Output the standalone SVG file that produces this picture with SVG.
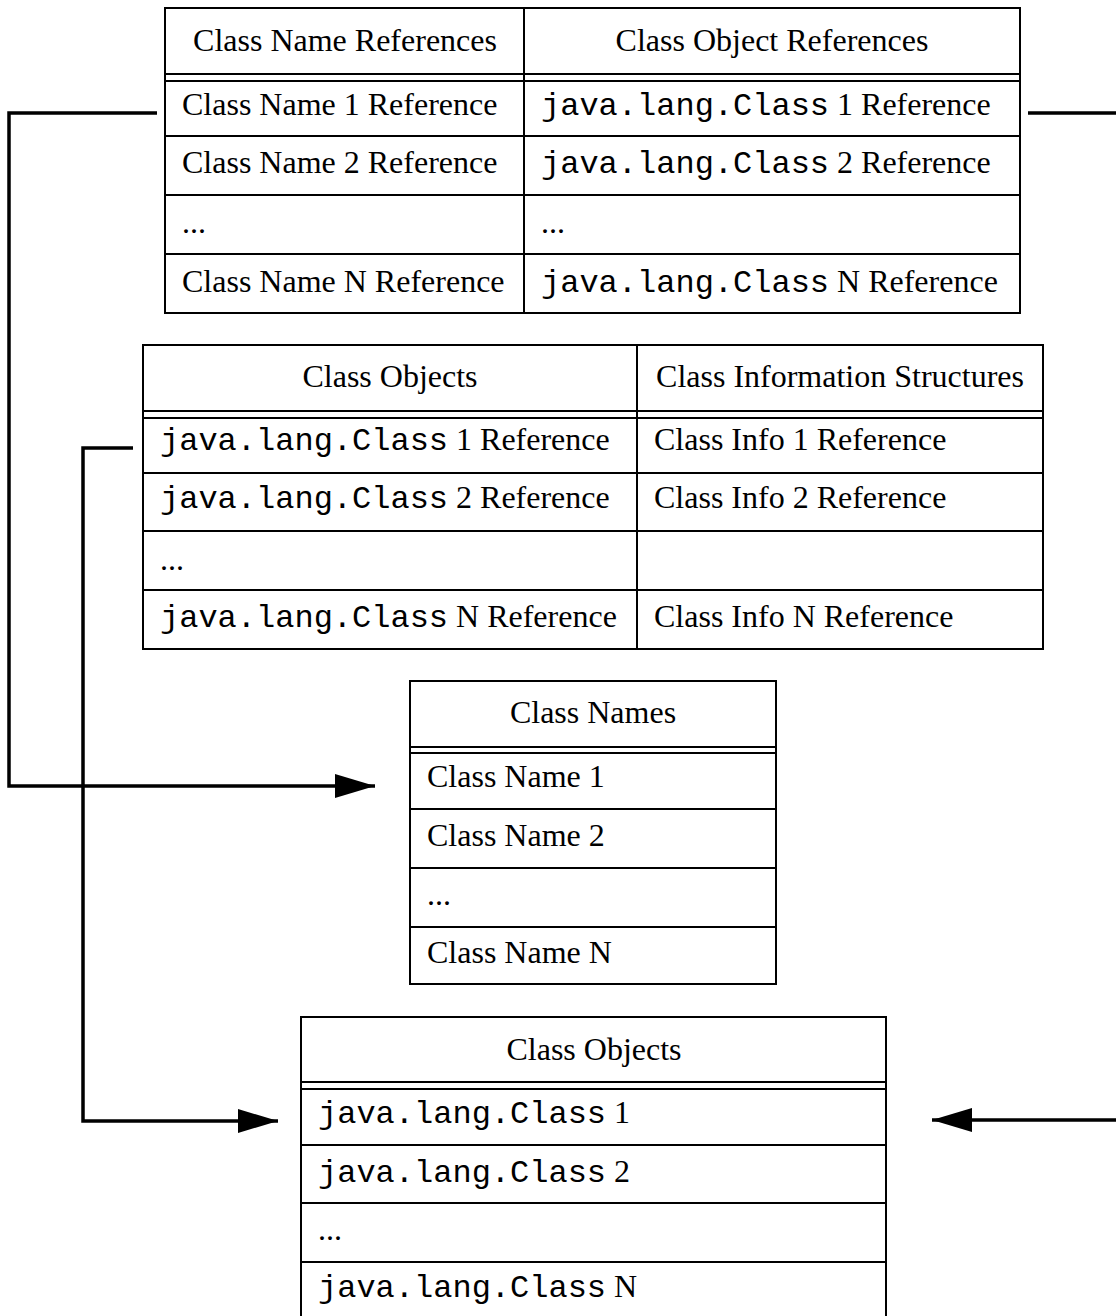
<svg xmlns="http://www.w3.org/2000/svg" width="1116" height="1316" viewBox="0 0 1116 1316">
<style>
.box{fill:#fff;stroke:#000;stroke-width:2}
.ln{stroke:#000;stroke-width:2;fill:none}
.t{font-family:"Liberation Serif","Times New Roman",serif;font-size:32px;fill:#000}
.c{text-anchor:middle}
.m{font-family:"Liberation Mono","Courier New",monospace;font-size:32px}
.conn{stroke:#000;stroke-width:3.5;fill:none}
</style>
<defs>
<marker id="ah" markerUnits="userSpaceOnUse" markerWidth="40" markerHeight="24" viewBox="0 0 40 24" refX="40" refY="12" orient="auto">
<path d="M0,0 L40,12 L0,24 Z" fill="#000"/>
</marker>
</defs>
<rect width="1116" height="1316" fill="#fff"/>

<g id="class-name-refs-table">
<rect class="box" x="165" y="8" width="855" height="305"/>
<line class="ln" x1="165" y1="74" x2="1020" y2="74"/>
<line class="ln" x1="165" y1="81" x2="1020" y2="81"/>
<line class="ln" x1="165" y1="136" x2="1020" y2="136"/>
<line class="ln" x1="165" y1="195" x2="1020" y2="195"/>
<line class="ln" x1="165" y1="254" x2="1020" y2="254"/>
<line class="ln" x1="524" y1="8" x2="524" y2="313"/>
<text class="t c" x="345" y="51">Class Name References</text>
<text class="t c" x="772" y="51">Class Object References</text>
<text class="t" x="182" y="115">Class Name 1 Reference</text>
<text class="t" x="182" y="173">Class Name 2 Reference</text>
<text class="t" x="182" y="233">...</text>
<text class="t" x="182" y="292">Class Name N Reference</text>
<text class="t" x="541" y="115"><tspan class="m">java.lang.Class</tspan> 1 Reference</text>
<text class="t" x="541" y="173"><tspan class="m">java.lang.Class</tspan> 2 Reference</text>
<text class="t" x="541" y="233">...</text>
<text class="t" x="541" y="292"><tspan class="m">java.lang.Class</tspan> N Reference</text>
</g>

<g id="class-objects-info-table">
<rect class="box" x="143" y="345" width="900" height="304"/>
<line class="ln" x1="143" y1="411" x2="1043" y2="411"/>
<line class="ln" x1="143" y1="418" x2="1043" y2="418"/>
<line class="ln" x1="143" y1="473" x2="1043" y2="473"/>
<line class="ln" x1="143" y1="531" x2="1043" y2="531"/>
<line class="ln" x1="143" y1="590" x2="1043" y2="590"/>
<line class="ln" x1="637" y1="345" x2="637" y2="649"/>
<text class="t c" x="390" y="387">Class Objects</text>
<text class="t c" x="840" y="387">Class Information Structures</text>
<text class="t" x="160" y="450"><tspan class="m">java.lang.Class</tspan> 1 Reference</text>
<text class="t" x="160" y="508"><tspan class="m">java.lang.Class</tspan> 2 Reference</text>
<text class="t" x="160" y="570">...</text>
<text class="t" x="160" y="627"><tspan class="m">java.lang.Class</tspan> N Reference</text>
<text class="t" x="654" y="450">Class Info 1 Reference</text>
<text class="t" x="654" y="508">Class Info 2 Reference</text>
<text class="t" x="654" y="627">Class Info N Reference</text>
</g>

<g id="class-names-table">
<rect class="box" x="410" y="681" width="366" height="303"/>
<line class="ln" x1="410" y1="747" x2="776" y2="747"/>
<line class="ln" x1="410" y1="753" x2="776" y2="753"/>
<line class="ln" x1="410" y1="809" x2="776" y2="809"/>
<line class="ln" x1="410" y1="868" x2="776" y2="868"/>
<line class="ln" x1="410" y1="927" x2="776" y2="927"/>
<text class="t c" x="593" y="723">Class Names</text>
<text class="t" x="427" y="787">Class Name 1</text>
<text class="t" x="427" y="846">Class Name 2</text>
<text class="t" x="427" y="905">...</text>
<text class="t" x="427" y="963">Class Name N</text>
</g>

<g id="class-objects-table">
<rect class="box" x="301" y="1017" width="585" height="310"/>
<line class="ln" x1="301" y1="1082" x2="886" y2="1082"/>
<line class="ln" x1="301" y1="1089" x2="886" y2="1089"/>
<line class="ln" x1="301" y1="1145" x2="886" y2="1145"/>
<line class="ln" x1="301" y1="1203" x2="886" y2="1203"/>
<line class="ln" x1="301" y1="1262" x2="886" y2="1262"/>
<text class="t c" x="594" y="1060">Class Objects</text>
<text class="t" x="318" y="1123"><tspan class="m">java.lang.Class</tspan> 1</text>
<text class="t" x="318" y="1182"><tspan class="m">java.lang.Class</tspan> 2</text>
<text class="t" x="318" y="1240">...</text>
<text class="t" x="318" y="1297"><tspan class="m">java.lang.Class</tspan> N</text>
</g>

<g id="connectors">
<path class="conn" d="M157,113 H9 V786 H375" marker-end="url(#ah)"/>
<path class="conn" d="M133,448 H83 V1121 H278" marker-end="url(#ah)"/>
<path class="conn" d="M1028,113 H1140 V1120 H932" marker-end="url(#ah)"/>
</g>
</svg>
